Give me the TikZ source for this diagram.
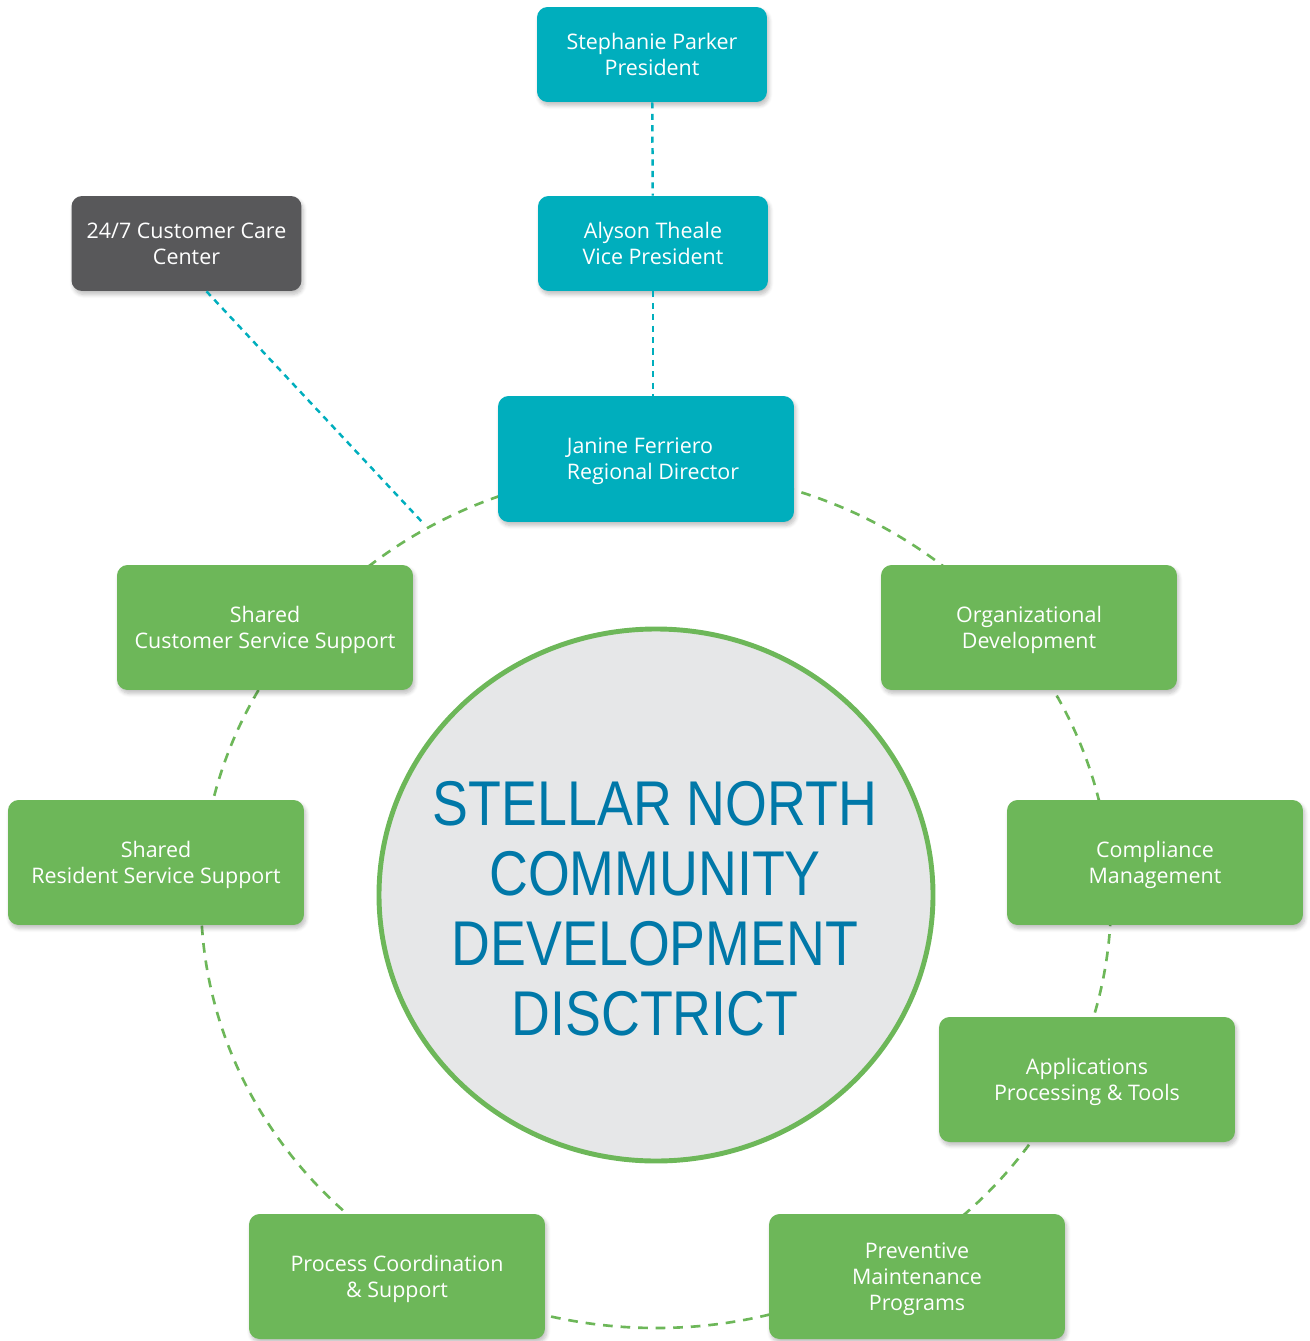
\documentclass[tikz,border=0pt]{standalone}
\usepackage{fontspec}
\setmainfont{Open Sans}
\newfontfamily\titlefont[FakeStretch=0.85]{Liberation Sans}
\usetikzlibrary{shadows.blur}
\definecolor{snteal}{RGB}{0,174,189}
\definecolor{sngreen}{RGB}{109,183,89}
\definecolor{sngray}{RGB}{88,88,90}
\definecolor{snfill}{RGB}{230,231,232}
\definecolor{snblue}{RGB}{0,120,168}
\begin{document}
\begin{tikzpicture}[x=0.02cm, y=-0.02cm,
  every node/.style={text=white, align=center, inner sep=0pt, font=\fontsize{12.2}{14.8}\selectfont},
  box/.style={rounded corners=6pt, minimum width=5.92cm, minimum height=2.5cm, text depth=-0.6pt,
    blur shadow={shadow blur steps=6, shadow xshift=1pt, shadow yshift=-2pt, shadow opacity=25}},
  small/.style={box, minimum width=4.6cm, minimum height=1.9cm},
  ring/.style={sngreen, line width=1.5pt, dash pattern=on 5.5pt off 4.5pt},
  link/.style={snteal, line width=1.4pt, dash pattern=on 3.5pt off 3pt}]
  \useasboundingbox (0,0) rectangle (1309,1341);
  \draw [ring] (656,899) ellipse [x radius=455, y radius=429];
  \coordinate (c) at (423,523);
  \node [small,fill=snteal] (1) at (652,54.5) {Stephanie Parker\\President};
  \node [small,fill=snteal] (2) at (653,243.5) {Alyson Theale\\Vice President};
  \node [small,fill=sngray] (3) at (186.5,243.5) {24/7 Customer Care\\Center};
  \node [box,fill=snteal,minimum height=2.52cm,align=left] (4) at (646,459)
    {\hspace*{0.28cm}Janine Ferriero\\\hspace*{0.28cm}Regional Director};
  \node [box,fill=sngreen] (5) at (265,627.5) {Shared\\Customer Service Support};
  \node [box,fill=sngreen] (6) at (1029,627.5) {Organizational\\Development};
  \node [box,fill=sngreen] (7) at (156,862.5) {Shared\\Resident Service Support};
  \node [box,fill=sngreen] (8) at (1155,862.5) {Compliance\\Management};
  \node [box,fill=sngreen] (9) at (1087,1079.5) {Applications\\Processing \& Tools};
  \node [box,fill=sngreen] (10) at (397,1276.5) {Process Coordination\\\& Support};
  \node [box,fill=sngreen] (11) at (917,1276.5) {Preventive\\Maintenance\\Programs};
  \draw [snfill, fill=snfill] (656,895) ellipse [x radius=277, y radius=266];
  \draw [sngreen, line width=2.8pt] (656,895) ellipse [x radius=277, y radius=266];
  \node [text=snblue, font=\titlefont\fontsize{36}{39.8}\selectfont] (0) at (655,909)
    {STELLAR NORTH\\COMMUNITY\\DEVELOPMENT\\DISCTRICT};
  \draw [link] (1) -- (2);
  \draw [link] (2.south) -- (2.south |- 4.north);
  \draw [link] ([xshift=0.4cm]3.south) -- (c);
\end{tikzpicture}
\end{document}
